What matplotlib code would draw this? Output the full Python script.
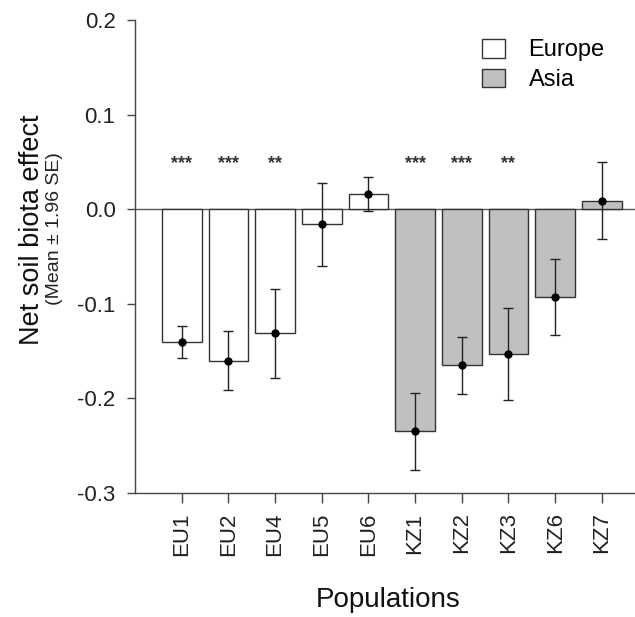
import matplotlib
matplotlib.use('Agg')
import matplotlib.pyplot as plt
from matplotlib.patches import Patch

plt.rcParams['font.family'] = ['Liberation Sans', 'DejaVu Sans']

# Populations and their net soil biota effect (mean and 1.96 SE)
populations = ['EU1', 'EU2', 'EU4', 'EU5', 'EU6', 'KZ1', 'KZ2', 'KZ3', 'KZ6', 'KZ7']
regions = ['Europe'] * 5 + ['Asia'] * 5
means = [-0.140, -0.160, -0.131, -0.016, 0.016, -0.235, -0.165, -0.153, -0.093, 0.009]
errors = [0.017, 0.031, 0.047, 0.044, 0.018, 0.041, 0.030, 0.049, 0.040, 0.041]
stars = ['***', '***', '**', '', '', '***', '***', '**', '', '']
star_y = 0.05

colors = {'Europe': 'white', 'Asia': '#c0c0c0'}
edge = '#333333'

fig = plt.figure(figsize=(6.35, 6.17), dpi=100)
ax = fig.add_axes([0.2126, 0.201, 0.7874, 0.7666])

x = list(range(len(populations)))
ax.axhline(0, color='#555555', lw=1.0, zorder=1)
ax.bar(x, means, width=0.85, color=[colors[r] for r in regions],
       edgecolor=edge, linewidth=1.0, zorder=2)
ax.errorbar(x, means, yerr=errors, fmt='o', color='black', ms=5,
            ecolor='#222222', elinewidth=1.0, capsize=3.5, capthick=1.0, zorder=3)

# significance stars above the zero line
for xi, s in zip(x, stars):
    if s:
        ax.text(xi, star_y, s, ha='center', va='center_baseline', fontsize=13,
                color='#333333', fontweight='bold')

ax.set_xlim(-1, 9.71)
ax.set_ylim(-0.3, 0.2)
ax.set_yticks([-0.3, -0.2, -0.1, 0.0, 0.1, 0.2])
ax.set_yticklabels(['-0.3', '-0.2', '-0.1', '0.0', '0.1', '0.2'])
ax.set_xticks(x)
ax.set_xticklabels(populations, rotation=90)

ax.spines['top'].set_visible(False)
ax.spines['right'].set_visible(False)
for sp in ['left', 'bottom']:
    ax.spines[sp].set_color('#444444')
    ax.spines[sp].set_linewidth(1.0)
ax.tick_params(axis='both', labelsize=16, colors='#444444', labelcolor='#222222',
               length=7, width=1.0, pad=7)
ax.tick_params(axis='y', length=6, pad=8)

handles = [Patch(facecolor='white', edgecolor=edge, label='Europe'),
           Patch(facecolor='#c0c0c0', edgecolor=edge, label='Asia')]
ax.legend(handles=handles, loc='upper left', bbox_to_anchor=(0.676, 0.98),
          frameon=False, fontsize=17, handlelength=0.95, handleheight=0.85,
          labelspacing=0.3, handletextpad=1.0, borderaxespad=0)

fig.text(0.050, 0.627, 'Net soil biota effect', rotation=90, ha='center', va='center',
         fontsize=19.5, color='#111111')
fig.text(0.086, 0.63, '(Mean \u00b1 1.96 SE)', rotation=90, ha='center', va='center',
         fontsize=14, color='#222222')
fig.text(0.611, 0.0167, 'Populations', ha='center', va='baseline', fontsize=20,
         color='#111111')

fig.savefig('out.png', dpi=100)
